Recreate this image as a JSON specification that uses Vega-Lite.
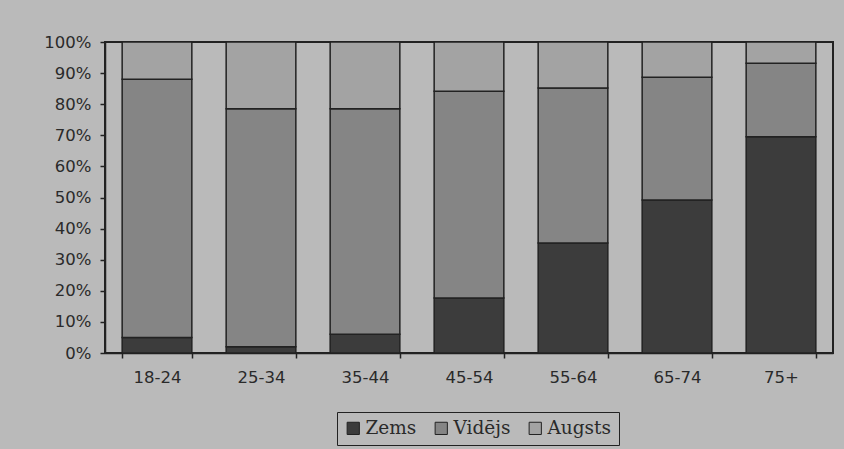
{
  "$schema": "https://vega.github.io/schema/vega-lite/v6.json",
  "width": 728,
  "height": 311,
  "autosize": "none",
  "padding": {"left": 105, "top": 42, "right": 11, "bottom": 96},
  "background": "#bababa",
  "data": {
    "values": [
      {"age": "18-24", "level": "Zems", "o": 1, "v": 5},
      {"age": "18-24", "level": "Vidējs", "o": 2, "v": 83},
      {"age": "18-24", "level": "Augsts", "o": 3, "v": 12},
      {"age": "25-34", "level": "Zems", "o": 1, "v": 2},
      {"age": "25-34", "level": "Vidējs", "o": 2, "v": 76.5},
      {"age": "25-34", "level": "Augsts", "o": 3, "v": 21.5},
      {"age": "35-44", "level": "Zems", "o": 1, "v": 6},
      {"age": "35-44", "level": "Vidējs", "o": 2, "v": 72.5},
      {"age": "35-44", "level": "Augsts", "o": 3, "v": 21.5},
      {"age": "45-54", "level": "Zems", "o": 1, "v": 17.7},
      {"age": "45-54", "level": "Vidējs", "o": 2, "v": 66.5},
      {"age": "45-54", "level": "Augsts", "o": 3, "v": 15.8},
      {"age": "55-64", "level": "Zems", "o": 1, "v": 35.4},
      {"age": "55-64", "level": "Vidējs", "o": 2, "v": 49.8},
      {"age": "55-64", "level": "Augsts", "o": 3, "v": 14.8},
      {"age": "65-74", "level": "Zems", "o": 1, "v": 49.2},
      {"age": "65-74", "level": "Vidējs", "o": 2, "v": 39.5},
      {"age": "65-74", "level": "Augsts", "o": 3, "v": 11.3},
      {"age": "75+", "level": "Zems", "o": 1, "v": 69.5},
      {"age": "75+", "level": "Vidējs", "o": 2, "v": 23.7},
      {"age": "75+", "level": "Augsts", "o": 3, "v": 6.8}
    ]
  },
  "mark": {"type": "bar", "stroke": "#222222", "strokeWidth": 1.5},
  "encoding": {
    "x": {
      "field": "age",
      "type": "nominal",
      "sort": null,
      "scale": {"paddingInner": 0.33, "paddingOuter": 0.165},
      "axis": {
        "title": null,
        "labelAngle": 0,
        "tickBand": "extent",
        "tickSize": 5,
        "tickWidth": 1.5,
        "tickColor": "#222222",
        "domainColor": "#222222",
        "domainWidth": 1.5,
        "labelPadding": 11,
        "labelFont": "DejaVu Sans",
        "labelFontSize": 16.5,
        "labelColor": "#2a2a2a"
      }
    },
    "y": {
      "field": "v",
      "type": "quantitative",
      "stack": "normalize",
      "scale": {"domain": [0, 1], "nice": false},
      "axis": {
        "title": null,
        "format": ".0%",
        "values": [0, 0.1, 0.2, 0.3, 0.4, 0.5, 0.6, 0.7, 0.8, 0.9, 1],
        "grid": false,
        "tickSize": 5,
        "tickWidth": 1.5,
        "tickColor": "#222222",
        "domainColor": "#222222",
        "domainWidth": 1.5,
        "labelPadding": 9,
        "labelFont": "DejaVu Sans",
        "labelFontSize": 16.5,
        "labelColor": "#2a2a2a"
      }
    },
    "color": {
      "field": "level",
      "type": "nominal",
      "sort": ["Zems", "Vidējs", "Augsts"],
      "scale": {"domain": ["Zems", "Vidējs", "Augsts"], "range": ["#3c3c3c", "#858585", "#a3a3a3"]},
      "legend": {
        "title": null,
        "orient": "none",
        "direction": "horizontal",
        "legendX": 232,
        "legendY": 370,
        "strokeColor": "#222222",
        "padding": 7,
        "symbolType": "square",
        "symbolSize": 150,
        "symbolStrokeColor": "#222222",
        "symbolStrokeWidth": 1,
        "symbolOpacity": 1,
        "labelFont": "DejaVu Serif",
        "labelFontSize": 18.5,
        "labelColor": "#2a2a2a",
        "columnPadding": 15,
        "labelOffset": 3
      }
    },
    "order": {"field": "o", "type": "quantitative"}
  },
  "config": {
    "view": {"stroke": "#222222", "strokeWidth": 2, "fill": "#bababa"}
  }
}
